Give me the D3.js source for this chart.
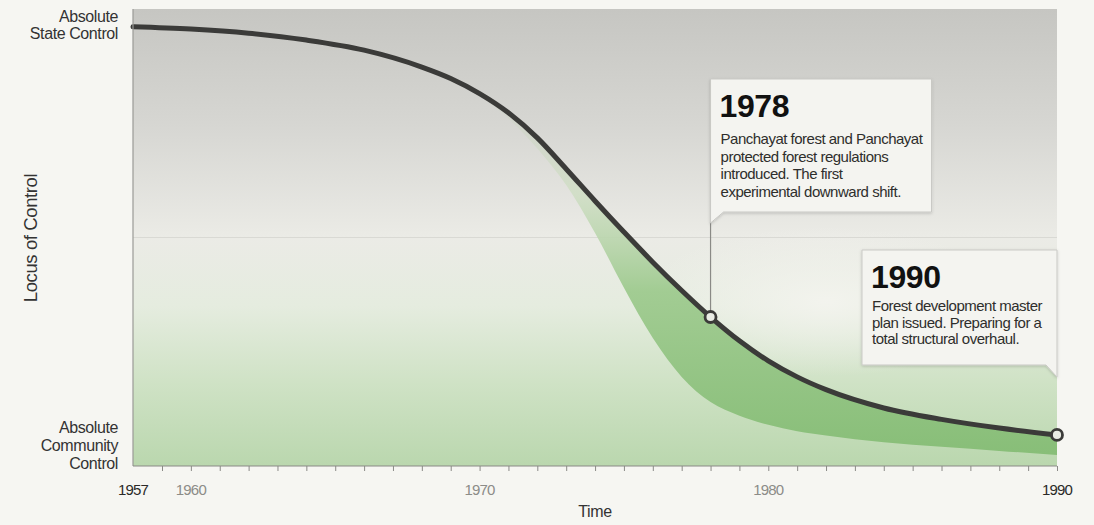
<!DOCTYPE html>
<html>
<head>
<meta charset="utf-8">
<script src="https://cdn.jsdelivr.net/npm/d3@7"></script>
<style>
  html, body { margin: 0; padding: 0; background: #f6f6f2; }
  svg { display: block; font-family: "Liberation Sans", Arial, sans-serif; }
</style>
</head>
<body>
<svg id="chart" width="1094" height="525"></svg>
<script>
// Locus of control over time (100 = absolute state control, 0 = absolute community control)
const years = [1957, 1960, 1962, 1964, 1966, 1968, 1969, 1970, 1971, 1972, 1973, 1974, 1975, 1976, 1977, 1978, 1979, 1980, 1981, 1982, 1984, 1986, 1988, 1990];
const control = [96.1, 95.6, 94.7, 93.2, 91.0, 87.3, 84.8, 81.5, 77.3, 71.8, 65.0, 58.0, 51.2, 44.6, 38.4, 32.6, 27.4, 23.0, 19.5, 16.7, 12.7, 10.2, 8.3, 6.8];

// Lower edge of the shifting band beneath the curve
const bandYears = [1969, 1970, 1971, 1972, 1973, 1974, 1975, 1976, 1977, 1978, 1979, 1980, 1981, 1982, 1984, 1986, 1988, 1990];
const bandLow = [84.8, 81.0, 76.0, 69.5, 61.5, 51.0, 39.0, 28.0, 19.5, 14.0, 11.0, 9.0, 7.6, 6.7, 5.2, 4.2, 3.3, 2.4];

// Axis labels
const axisStartLabel = "1957";
const majorTicks = [1960, 1970, 1980, 1990];
const minorTicks = d3.range(1959, 1991);
const yTopLabel = ["Absolute", "State Control"];
const yBottomLabel = ["Absolute", "Community", "Control"];

// Annotated milestones
const milestones = [
  { year: 1978, title: "1978", lines: ["Panchayat forest and Panchayat", "protected forest regulations", "introduced. The first", "experimental downward shift."] },
  { year: 1990, title: "1990", lines: ["Forest development master", "plan issued. Preparing for a", "total structural overhaul."] }
];

const svg = d3.select("#chart");
const pLeft = 133, pRight = 1057, pTop = 9, pBottom = 466;

// The first segment (1957–1959) is compressed; yearly spacing from 1959 on.
const x = d3.scaleLinear().domain([1957, 1959, 1990]).range([pLeft, 162, pRight]);
const y = d3.scaleLinear().domain([0, 100]).range([pBottom, pTop]);

const defs = svg.append("defs");

const bg = defs.append("linearGradient").attr("id", "bgGrad")
  .attr("x1", 0).attr("y1", 0).attr("x2", 0).attr("y2", 1);
[[0, "#c6c6c2"], [0.25, "#d6d6d2"], [0.5, "#ebebe6"], [0.65, "#e5ecdf"], [0.82, "#cfe2c5"], [1, "#bad7ae"]]
  .forEach(([o, c]) => bg.append("stop").attr("offset", o).attr("stop-color", c));

const glow = defs.append("radialGradient").attr("id", "glow")
  .attr("cx", 0.5).attr("cy", 0.5).attr("r", 0.5);
glow.append("stop").attr("offset", 0).attr("stop-color", "#f4f4ef").attr("stop-opacity", 0.9);
glow.append("stop").attr("offset", 1).attr("stop-color", "#f4f4ef").attr("stop-opacity", 0);

const bandGrad = defs.append("linearGradient").attr("id", "bandGrad")
  .attr("gradientUnits", "userSpaceOnUse")
  .attr("x1", 0).attr("y1", y(85)).attr("x2", 0).attr("y2", y(0));
[[0, "#cfcfca", 0.5], [0.3, "#cfdec4", 0.85], [0.55, "#a2cc93", 1], [1, "#86bd76", 1]]
  .forEach(([o, c, a]) => bandGrad.append("stop").attr("offset", o).attr("stop-color", c).attr("stop-opacity", a));

const shadow = defs.append("filter").attr("id", "boxShadow").attr("x", -0.1).attr("y", -0.1).attr("width", 1.2).attr("height", 1.3);
shadow.append("feDropShadow").attr("dx", 0).attr("dy", 1).attr("stdDeviation", 1.5).attr("flood-color", "#000").attr("flood-opacity", 0.18);

defs.append("clipPath").attr("id", "plotClip").append("rect")
  .attr("x", pLeft).attr("y", pTop).attr("width", pRight - pLeft).attr("height", pBottom - pTop);

// Plot background
svg.append("rect").attr("x", pLeft).attr("y", pTop).attr("width", pRight - pLeft).attr("height", pBottom - pTop)
  .attr("fill", "url(#bgGrad)");

const plot = svg.append("g").attr("clip-path", "url(#plotClip)");

// soft light patch to the right of the descent
plot.append("ellipse").attr("cx", x(1982)).attr("cy", y(36)).attr("rx", 190).attr("ry", 75)
  .attr("fill", "url(#glow)");

// mid-line
plot.append("line").attr("x1", pLeft).attr("x2", pRight).attr("y1", y(50)).attr("y2", y(50))
  .attr("stroke", "#d9d9d4").attr("stroke-width", 1);

// Band between the curve and its trailing lower edge
const curveFn = d3.scaleLinear().domain(years).range(control);
const bandData = bandYears.map((yr, i) => ({ yr, hi: curveFn(yr), lo: bandLow[i] }));
const area = d3.area().curve(d3.curveMonotoneX)
  .x(d => x(d.yr)).y0(d => y(d.lo)).y1(d => y(d.hi));
plot.append("path").datum(bandData).attr("d", area).attr("fill", "url(#bandGrad)");

// Main curve
const pts = years.map((yr, i) => ({ yr, v: control[i] }));
const line = d3.line().curve(d3.curveMonotoneX).x(d => x(d.yr)).y(d => y(d.v));
svg.append("path").datum(pts).attr("d", line)
  .attr("fill", "none").attr("stroke", "#3b3b39").attr("stroke-width", 5).attr("stroke-linecap", "round");

// Plot frame (left and bottom axis lines)
svg.append("line").attr("x1", pLeft).attr("x2", pLeft).attr("y1", pTop).attr("y2", pBottom).attr("stroke", "#9a9a96").attr("stroke-width", 1.2);
svg.append("line").attr("x1", pLeft).attr("x2", pRight).attr("y1", pBottom).attr("y2", pBottom).attr("stroke", "#8a8a86").attr("stroke-width", 1.2);

// x axis
const xAxis = d3.axisBottom(x).tickValues(minorTicks).tickSize(5).tickFormat("");
const gx = svg.append("g").attr("transform", `translate(0,${pBottom})`).call(xAxis);
gx.select(".domain").remove();
gx.selectAll(".tick line").attr("stroke", "#8a8a86");

const labelYears = [1957].concat(majorTicks);
svg.append("g").selectAll("text").data(labelYears).join("text")
  .attr("x", d => x(d)).attr("y", 495)
  .attr("text-anchor", "middle")
  .attr("font-size", 15)
  .attr("letter-spacing", -0.8)
  .attr("fill", d => (d === 1957 || d === 1990) ? "#2a2a28" : "#8c8c88")
  .text(d => d === 1957 ? axisStartLabel : String(d));

svg.append("text").attr("x", 595).attr("y", 517).attr("text-anchor", "middle")
  .attr("font-size", 16).attr("fill", "#333").attr("letter-spacing", -0.4).text("Time");

svg.append("text").attr("transform", `translate(37,238) rotate(-90)`)
  .attr("text-anchor", "middle").attr("font-size", 18.5).attr("fill", "#333").attr("letter-spacing", -0.4)
  .text("Locus of Control");

// y end labels
svg.append("g").selectAll("text").data(yTopLabel).join("text")
  .attr("x", 118).attr("y", (d, i) => 22 + i * 16.5)
  .attr("text-anchor", "end").attr("font-size", 16).attr("fill", "#333").attr("letter-spacing", -0.4).text(d => d);
svg.append("g").selectAll("text").data(yBottomLabel).join("text")
  .attr("x", 118).attr("y", (d, i) => 433 + i * 18)
  .attr("text-anchor", "end").attr("font-size", 16).attr("fill", "#333").attr("letter-spacing", -0.4).text(d => d);

// Milestone callouts
function callout(m, box, pointer) {
  const g = svg.append("g");
  g.append("path").attr("d", pointer(box))
    .attr("fill", "#f4f4f0").attr("stroke", "#c9c9c5").attr("stroke-width", 1)
    .attr("filter", "url(#boxShadow)");
  g.append("text").attr("x", box.x + 9).attr("y", box.y + 38)
    .attr("font-size", 32).attr("font-weight", "bold").attr("fill", "#111").attr("letter-spacing", -0.4)
    .text(m.title);
  g.append("g").selectAll("text").data(m.lines).join("text")
    .attr("x", box.x + 10).attr("y", (d, i) => box.y + box.textTop + i * box.lead)
    .attr("font-size", 15).attr("fill", "#2e2e2c").attr("letter-spacing", -0.5)
    .text(d => d);
}

// 1978 callout: tail on the lower-left corner, leader down to the marker
const m78 = milestones[0];
const b78 = { x: x(m78.year), y: 79, w: 221, h: 133, textTop: 65, lead: 17.7 };
svg.append("line").attr("x1", b78.x).attr("x2", b78.x).attr("y1", b78.y + b78.h + 10).attr("y2", y(curveFn(m78.year)))
  .attr("stroke", "#8a8a86").attr("stroke-width", 1.2);
callout(m78, b78, b => `M${b.x},${b.y}H${b.x + b.w}V${b.y + b.h}H${b.x + 13}L${b.x},${b.y + b.h + 11}Z`);

// 1990 callout: tail on the lower-right corner
const m90 = milestones[1];
const b90 = { x: 862, y: 250, w: x(m90.year) - 862, h: 115, textTop: 61, lead: 16.6 };
callout(m90, b90, b => `M${b.x},${b.y}H${b.x + b.w}V${b.y + b.h + 12}L${b.x + b.w - 11},${b.y + b.h}H${b.x}Z`);

// Markers
svg.append("g").selectAll("circle").data(milestones).join("circle")
  .attr("cx", d => x(d.year)).attr("cy", d => y(curveFn(d.year))).attr("r", 5.5)
  .attr("fill", "#e9ece4").attr("stroke", "#3b3b39").attr("stroke-width", 2.8);
</script>
</body>
</html>
